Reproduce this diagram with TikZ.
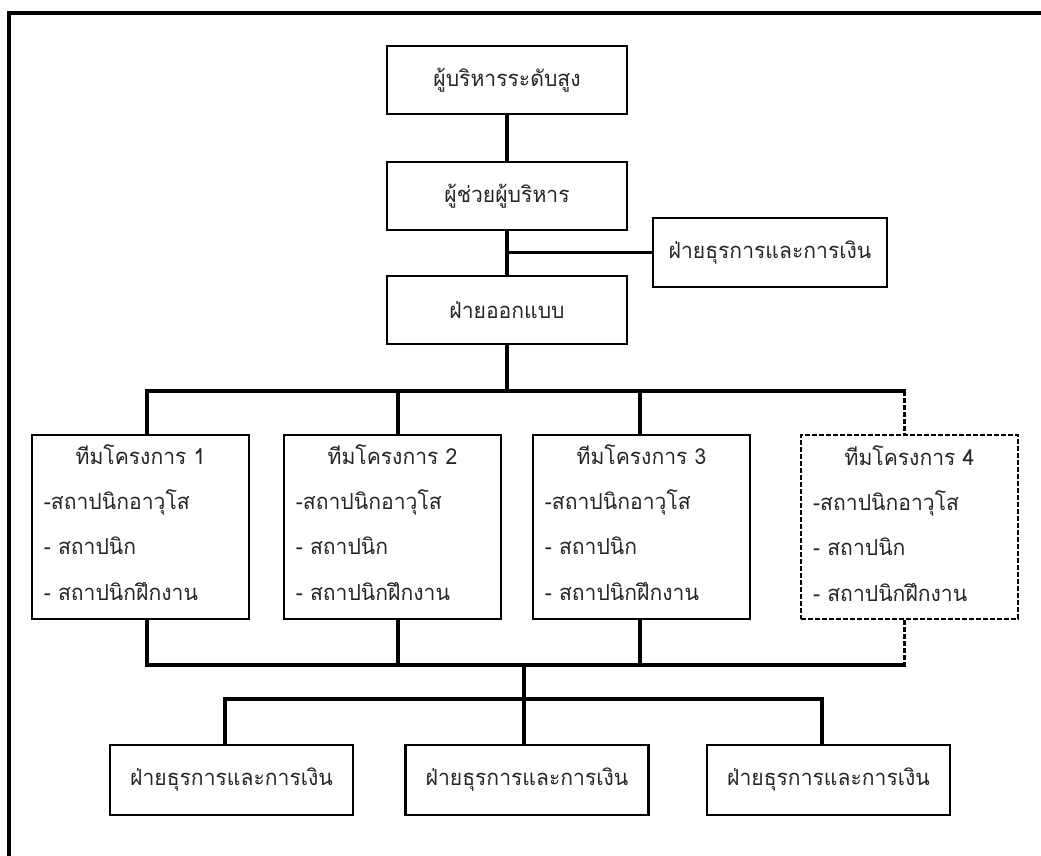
\documentclass[tikz,border=0pt]{standalone}
\usepackage{fontspec}
\newfontfamily\thaifont[Script=Thai, FakeStretch=0.96]{Loma}
\begin{document}
\begin{tikzpicture}[x=1pt,y=-1pt,
  txt/.style={font=\thaifont\fontsize{22}{26}\selectfont, text=black!85, inner sep=0pt},
  box/.style={draw, line width=2.6pt, inner sep=0pt, txt},
  unitbox/.style={box, minimum width=240pt, minimum height=68pt},
  sidebox/.style={box, minimum width=234pt, minimum height=69pt},
  lowbox/.style={box, minimum width=243pt, minimum height=70pt},
  teambox/.style={draw, line width=2.6pt, minimum width=217pt, minimum height=184pt, inner sep=0pt},
  teamdash/.style={teambox, line width=2pt, dash pattern=on 5pt off 2pt},
  link/.style={line width=3.6pt},
  linkdash/.style={line width=3pt, dash pattern=on 5pt off 2pt},
  frame/.style={line width=4.5pt}
]
\useasboundingbox (0,0) rectangle (1041,855);

% outer frame
\coordinate (fa) at (9,860);
\coordinate (fb) at (9,13);
\coordinate (fc) at (1046,13);
\draw[frame] (fa) -- (fb) -- (fc);

% upper chain
\node[unitbox] (top)    at (507,80)  {ผู้บริหารระดับสูง};
\node[unitbox] (assist) at (507,196) {ผู้ช่วยผู้บริหาร};
\node[unitbox] (design) at (507,310) {ฝ่ายออกแบบ};
\node[sidebox] (fin)    at (770,252.5) {ฝ่ายธุรการและการเงิน};

\draw[link] (top.south) -- (assist.north);
\draw[link] (assist.south) -- (design.north);
\coordinate (jfin) at (assist.south |- fin.west);
\draw[link] (jfin) -- (fin.west);

% project teams
\node[teambox]  (t1) at (140.5,527) {};
\node[teambox]  (t2) at (392.5,527) {};
\node[teambox]  (t3) at (641.5,527) {};
\node[teamdash] (t4) at (909.5,527) {};

\foreach \t/\n in {t1/1,t2/2,t3/3,t4/4}{
  \node[txt, anchor=base] (\t h) at ([yshift=-31pt]\t.north) {ทีมโครงการ \n};
  \node[txt, anchor=base west] (\t a) at ([xshift=13pt,yshift=-76pt]\t.north west) {-สถาปนิกอาวุโส};
  \node[txt, anchor=base west] (\t b) at ([xshift=13pt,yshift=-121pt]\t.north west) {- สถาปนิก};
  \node[txt, anchor=base west] (\t c) at ([xshift=13pt,yshift=-167pt]\t.north west) {- สถาปนิกฝึกงาน};
}

% upper bus
\coordinate (jdes) at (507,391);
\coordinate (u1) at (147,391);
\coordinate (u2) at (398,391);
\coordinate (u3) at (640,391);
\coordinate (u4) at (904,391);
\draw[link] (design.south) -- (jdes);
\draw[link] (t1.north -| u1) -- (u1) -- ([xshift=1.8pt]u4);
\draw[link] (u2) -- (t2.north -| u2);
\draw[link] (u3) -- (t3.north -| u3);
\draw[linkdash] (u4) -- (t4.north -| u4);

% lower bus
\coordinate (l1) at (147,665);
\coordinate (l2) at (398,665);
\coordinate (l3) at (640,665);
\coordinate (l4) at (904,665);
\coordinate (lm) at (524,665);
\draw[link] (t1.south -| l1) -- (l1) -- ([xshift=1.8pt]l4);
\draw[link] (t2.south -| l2) -- (l2);
\draw[link] (t3.south -| l3) -- (l3);
\draw[linkdash] (t4.south -| l4) -- (l4);

% bottom units
\node[lowbox] (b1) at (231.5,780) {ฝ่ายธุรการและการเงิน};
\node[lowbox] (b2) at (527,780)   {ฝ่ายธุรการและการเงิน};
\node[lowbox] (b3) at (828.5,780) {ฝ่ายธุรการและการเงิน};

\coordinate (d1) at (225,699);
\coordinate (dm) at (524,699);
\coordinate (d3) at (822,699);
\draw[link] (lm) -- (dm);
\draw[link] (b1.north -| d1) -- (d1) -- (d3) -- (b3.north -| d3);
\draw[link] (dm) -- (b2.north -| dm);
\end{tikzpicture}
\end{document}
